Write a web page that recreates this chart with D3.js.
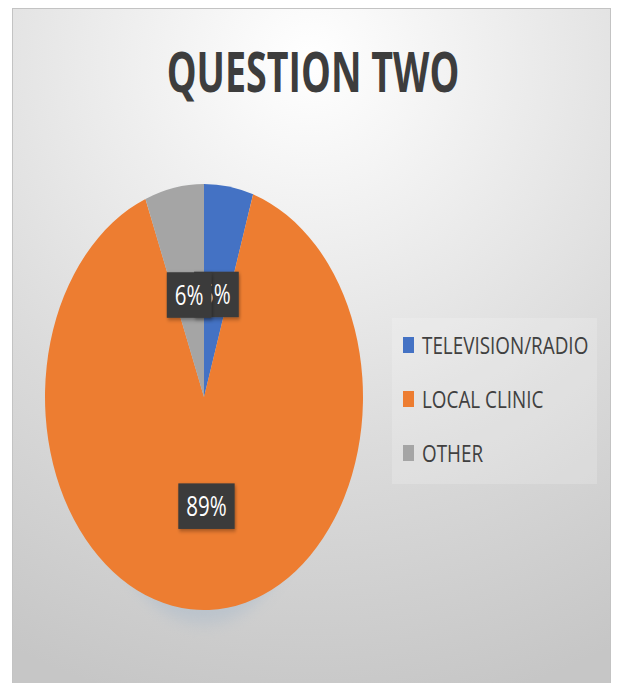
<!DOCTYPE html>
<html><head><meta charset="utf-8">
<script src="https://cdn.jsdelivr.net/npm/d3@7"></script>
<style>html,body{margin:0;padding:0;background:#fff;overflow:hidden}</style>
</head><body>
<svg id="chart" width="617" height="683"></svg>
<script>
const title = "QUESTION TWO";
const categories = ["TELEVISION/RADIO", "LOCAL CLINIC", "OTHER"];
const values = [5, 89, 6];
const valueLabels = ["5%", "89%", "6%"];
const colors = ["#4472C4", "#ED7D31", "#A5A5A5"];

const W = 617, H = 683;
const svg = d3.select("#chart");
const defs = svg.append("defs");

const grad = defs.append("radialGradient").attr("id", "bg")
  .attr("gradientUnits", "userSpaceOnUse")
  .attr("cx", 310).attr("cy", 60).attr("r", 660);
grad.append("stop").attr("offset", 0).attr("stop-color", "#ffffff");
grad.append("stop").attr("offset", 0.12).attr("stop-color", "#f8f8f8");
grad.append("stop").attr("offset", 0.6).attr("stop-color", "#dbdbdb");
grad.append("stop").attr("offset", 1).attr("stop-color", "#c6c6c6");

const sh = defs.append("filter").attr("id", "lblShadow").attr("x", "-30%").attr("y", "-30%").attr("width", "160%").attr("height", "160%");
sh.append("feDropShadow").attr("dx", 1).attr("dy", 1.5).attr("stdDeviation", 1.5).attr("flood-color", "#000").attr("flood-opacity", 0.35);

const glow = defs.append("filter").attr("id", "pieGlow").attr("x", "-20%").attr("y", "-20%").attr("width", "140%").attr("height", "140%");
glow.append("feGaussianBlur").attr("stdDeviation", 6);

// panel
svg.append("rect").attr("x", 12.5).attr("y", 8.5).attr("width", 598).attr("height", 690)
  .attr("fill", "url(#bg)").attr("stroke", "#c3c3c3").attr("stroke-width", 1);

// title
svg.append("text")
  .attr("transform", "translate(313,92) scale(0.94,1.4)")
  .attr("text-anchor", "middle")
  .attr("font-family", "'Open Sans', sans-serif")
  .attr("font-weight", 700)
  .attr("font-size", 40)
  .attr("fill", "#3d3d3d")
  .text(title);

// pie
const cx = 204, cy = 397, r = 159, sy = 1.34;
const pie = d3.pie().sort(null).value(d => d.value);
const data = categories.map((c, i) => ({ cat: c, value: values[i], label: valueLabels[i], color: colors[i] }));
const arcs = pie(data);
const arc = d3.arc().innerRadius(0).outerRadius(r);

const g = svg.append("g").attr("transform", `translate(${cx},${cy}) scale(1,${sy})`);
g.append("ellipse").attr("cx", 0).attr("cy", 10).attr("rx", r * 0.75).attr("ry", r * 1.0)
  .attr("fill", "#9fb4c9").attr("opacity", 0.4).attr("filter", "url(#pieGlow)");
g.selectAll("path.slice").data(arcs).join("path")
  .attr("class", "slice")
  .attr("d", arc)
  .attr("fill", d => d.data.color);

// data labels
const lbl = g.selectAll("g.lbl").data(arcs).join("g")
  .attr("class", "lbl")
  .attr("transform", d => { const c = arc.centroid(d); return `translate(${c[0]},${c[1] + 2})`; });
lbl.each(function(d) {
  const s = d3.select(this);
  const box = s.append("rect").attr("fill", "#3b3b3b").attr("filter", "url(#lblShadow)");
  const t = s.append("text")
    .attr("text-anchor", "middle")
    .attr("dy", "0.36em")
    .attr("font-family", "'Open Sans', sans-serif")
    .attr("font-size", 20.5)
    .attr("fill", "#ffffff")
    .text(d.data.label);
  const bb = t.node().getBBox();
  const padX = 8, bh = 34;
  box.attr("x", -bb.width / 2 - padX).attr("y", -bh / 2)
    .attr("width", bb.width + 2 * padX).attr("height", bh);
});

// legend
const legend = svg.append("g");
legend.append("rect").attr("x", 392).attr("y", 318).attr("width", 205).attr("height", 166)
  .attr("fill", "#ffffff").attr("opacity", 0.18);
const items = legend.selectAll("g.item").data(data).join("g")
  .attr("class", "item")
  .attr("transform", (d, i) => `translate(403,${345 + i * 54})`);
items.append("rect").attr("x", 0).attr("y", -8).attr("width", 11).attr("height", 16)
  .attr("fill", d => d.color);
items.append("text")
  .attr("transform", "translate(19,0) scale(1.02,1.32)")
  .attr("dy", "0.36em")
  .attr("font-family", "'Open Sans', sans-serif")
  .attr("font-size", 18.5)
  .attr("fill", "#404040")
  .text(d => d.cat);
</script>
</body></html>
